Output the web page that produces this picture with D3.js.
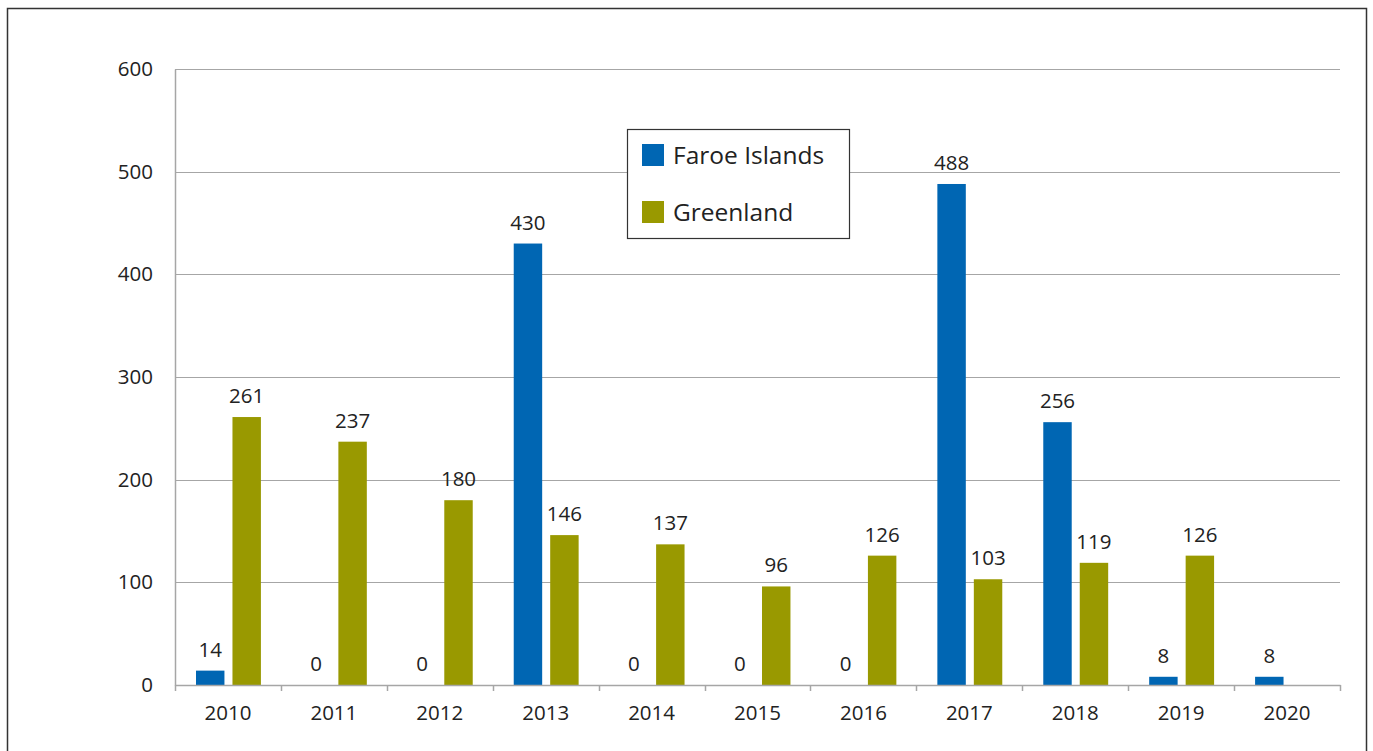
<!DOCTYPE html>
<html>
<head>
<meta charset="utf-8">
<script src="https://cdn.jsdelivr.net/npm/d3@7"></script>
<style>
  body { margin: 0; background: #fff; }
  svg { display: block; font-family: "Open Sans", "Noto Sans", sans-serif; }
</style>
</head>
<body>
<svg id="chart"></svg>
<script>
const width = 1373, height = 751;
const margin = { top: 69, right: 33, bottom: 66, left: 175 };
const plotWidth = width - margin.left - margin.right;
const plotHeight = height - margin.top - margin.bottom;

// Data
const years = ["2010", "2011", "2012", "2013", "2014", "2015", "2016", "2017", "2018", "2019", "2020"];
const faroe = [14, 0, 0, 430, 0, 0, 0, 488, 256, 8, 8];
const greenland = [261, 237, 180, 146, 137, 96, 126, 103, 119, 126, null];
const seriesNames = ["Faroe Islands", "Greenland"];
const seriesColors = ["#0066b3", "#999900"];
const yTicks = [0, 100, 200, 300, 400, 500, 600];

const svg = d3.select("#chart")
    .attr("width", width)
    .attr("height", height);

// outer frame
svg.append("rect")
    .attr("x", 7.5).attr("y", 8.5)
    .attr("width", 1359).attr("height", 760)
    .attr("fill", "none")
    .attr("stroke", "#333")
    .attr("stroke-width", 1.5);

const g = svg.append("g")
    .attr("transform", `translate(${margin.left},${margin.top})`);

const xScale = d3.scaleBand().domain(years).range([0, plotWidth]);
const inner = d3.scaleBand().domain(seriesNames)
    .range([21, xScale.bandwidth() - 20])
    .paddingInner(0.22);
const yScale = d3.scaleLinear().domain([0, 600]).range([plotHeight, 0]);

// gridlines
g.append("g")
    .selectAll("line")
    .data(yTicks.filter(d => d > 0))
    .enter()
    .append("line")
    .attr("x1", 0)
    .attr("x2", plotWidth)
    .attr("y1", d => Math.round(yScale(d)) + 0.5)
    .attr("y2", d => Math.round(yScale(d)) + 0.5)
    .attr("stroke", "#a6a6a6")
    .attr("stroke-width", 1);

// y axis
const yAxis = g.append("g")
    .call(d3.axisLeft(yScale).tickValues(yTicks).tickSize(0).tickPadding(22));
yAxis.select(".domain").attr("stroke", "#a6a6a6").attr("stroke-width", 1.5);
yAxis.selectAll("text")
    .attr("font-size", 20.5)
    .attr("fill", "#222")
    .attr("font-family", "Open Sans, Noto Sans, sans-serif");

// bars
const allSeries = [faroe, greenland];
allSeries.forEach((vals, si) => {
    const name = seriesNames[si];
    const grp = g.append("g");
    const rows = years.map((y, i) => ({ year: y, value: vals[i] })).filter(d => d.value !== null);
    grp.selectAll("rect")
        .data(rows)
        .enter()
        .append("rect")
        .attr("x", d => xScale(d.year) + inner(name))
        .attr("width", inner.bandwidth())
        .attr("y", d => yScale(d.value))
        .attr("height", d => plotHeight - yScale(d.value))
        .attr("fill", seriesColors[si]);
    grp.selectAll("text")
        .data(rows)
        .enter()
        .append("text")
        .attr("x", d => xScale(d.year) + inner(name) + inner.bandwidth() / 2)
        .attr("y", d => yScale(d.value) - 14)
        .attr("text-anchor", "middle")
        .attr("font-size", 20.5)
        .attr("fill", "#222")
        .text(d => d.value);
});

// x axis
const xAxis = g.append("g")
    .attr("transform", `translate(0,${plotHeight})`)
    .call(d3.axisBottom(xScale).tickSize(0).tickPadding(20));
xAxis.select(".domain").attr("stroke", "#a6a6a6").attr("stroke-width", 1.5);
xAxis.selectAll("text")
    .attr("font-size", 20.5)
    .attr("fill", "#222")
    .attr("font-family", "Open Sans, Noto Sans, sans-serif");

// category boundary ticks
xAxis.selectAll(".bound")
    .data(d3.range(years.length + 1))
    .enter()
    .append("line")
    .attr("x1", i => Math.round(i * xScale.step()) + 0.5)
    .attr("x2", i => Math.round(i * xScale.step()) + 0.5)
    .attr("y1", 0)
    .attr("y2", 6)
    .attr("stroke", "#a6a6a6")
    .attr("stroke-width", 1.5);

// legend
const legend = svg.append("g").attr("transform", "translate(627.5,129.5)");
legend.append("rect")
    .attr("width", 222).attr("height", 109)
    .attr("fill", "#fff")
    .attr("stroke", "#333")
    .attr("stroke-width", 1.2);
seriesNames.forEach((name, i) => {
    legend.append("rect")
        .attr("x", 14.5).attr("y", 14.5 + i * 57)
        .attr("width", 22).attr("height", 22)
        .attr("fill", seriesColors[i]);
    legend.append("text")
        .attr("x", 45.5).attr("y", 24.5 + i * 57)
        .attr("dominant-baseline", "central")
        .attr("font-size", 24.5)
        .attr("fill", "#222")
        .text(name);
});
</script>
</body>
</html>
